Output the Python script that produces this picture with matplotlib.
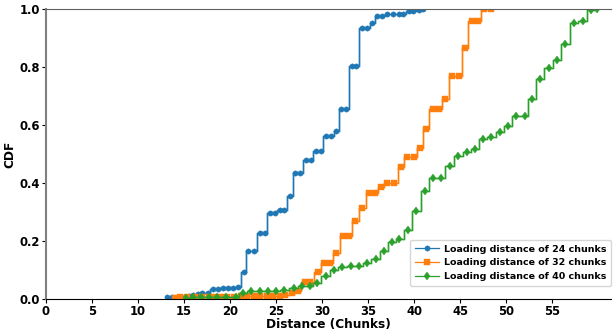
import matplotlib
matplotlib.use("Agg")
import matplotlib.pyplot as plt

# --------- DATA ---------
x_24 = [13.1, 13.7, 14.7, 15.5, 16.0, 16.5, 17.0, 17.6, 18.1, 18.7, 19.2, 19.8, 20.3, 20.9,
        21.5, 22.0, 22.6, 23.2, 23.8, 24.3, 24.85, 25.4, 25.9, 26.5, 27.1, 27.6, 28.2, 28.8,
        29.3, 29.85, 30.4, 31.0, 31.5, 32.1, 32.6, 33.2, 33.7, 34.35, 34.9, 35.4, 36.0, 36.55,
        37.1, 37.7, 38.3, 38.8, 39.4, 39.9, 40.5, 41.0]
cdf_24 = [0.005, 0.005, 0.008, 0.011, 0.014, 0.018, 0.020, 0.022, 0.034, 0.035, 0.037, 0.037, 0.039, 0.040,
          0.093, 0.166, 0.166, 0.228, 0.228, 0.298, 0.298, 0.308, 0.308, 0.355, 0.433, 0.433, 0.478, 0.478,
          0.509, 0.509, 0.561, 0.561, 0.578, 0.655, 0.655, 0.803, 0.803, 0.934, 0.934, 0.953, 0.977, 0.977,
          0.984, 0.984, 0.984, 0.984, 0.992, 0.992, 0.995, 1.0]

x_32 = [14.0, 14.6, 15.3, 16.2, 17.0, 17.7, 18.4, 19.0, 19.7, 20.4, 21.2, 21.85, 22.6, 23.3,
        24.0, 24.7, 25.4, 26.0, 26.7, 27.35, 28.1, 28.7, 29.5, 30.2, 30.9, 31.55, 32.3, 32.9,
        33.6, 34.35, 35.1, 35.7, 36.45, 37.1, 37.85, 38.6, 39.2, 40.0, 40.6, 41.3, 42.0, 42.7,
        43.4, 44.1, 44.85, 45.5, 46.3, 46.9, 47.6, 48.3]
cdf_32 = [0.003, 0.005, 0.006, 0.007, 0.008, 0.008, 0.008, 0.008, 0.008, 0.008, 0.009, 0.009, 0.009, 0.011,
          0.011, 0.011, 0.011, 0.014, 0.022, 0.029, 0.060, 0.060, 0.092, 0.124, 0.124, 0.159, 0.216, 0.216,
          0.269, 0.313, 0.367, 0.367, 0.385, 0.399, 0.399, 0.454, 0.489, 0.489, 0.522, 0.586, 0.655, 0.655,
          0.690, 0.768, 0.768, 0.864, 0.959, 0.959, 1.0, 1.0]

x_40 = [15.2, 16.0, 16.8, 17.7, 18.6, 19.6, 20.6, 21.4, 22.3, 23.2, 24.1, 25.0, 25.9, 26.9,
        27.8, 28.65, 29.4, 30.4, 31.3, 32.2, 33.1, 34.0, 34.9, 35.8, 36.7, 37.6, 38.4, 39.35,
        40.25, 41.15, 42.0, 42.9, 43.9, 44.8, 45.7, 46.6, 47.45, 48.4, 49.3, 50.2, 51.1, 52.0,
        52.8, 53.7, 54.6, 55.55, 56.4, 57.35, 58.3, 59.2, 59.9]
cdf_40 = [0.003, 0.005, 0.006, 0.006, 0.006, 0.006, 0.008, 0.022, 0.029, 0.029, 0.029, 0.029, 0.031, 0.037,
          0.043, 0.045, 0.054, 0.079, 0.100, 0.109, 0.114, 0.114, 0.123, 0.137, 0.167, 0.198, 0.208, 0.238,
          0.303, 0.373, 0.416, 0.416, 0.460, 0.493, 0.508, 0.517, 0.551, 0.560, 0.575, 0.598, 0.631, 0.631,
          0.689, 0.759, 0.795, 0.824, 0.878, 0.953, 0.959, 0.997, 1.0]

labels = ["Loading distance of 24 chunks",
          "Loading distance of 32 chunks",
          "Loading distance of 40 chunks"]
# -----------------------------------------------

plt.rcParams["font.weight"] = "bold"
plt.rcParams["axes.labelweight"] = "bold"

fig = plt.figure(figsize=(6.13, 3.34), dpi=100)
ax = fig.add_axes([0.075, 0.105, 0.922, 0.868])

series = [(x_24, cdf_24, "o", 3.8), (x_32, cdf_32, "s", 3.8), (x_40, cdf_40, "d", 4.4)]
colors = ["#1f77b4", "#ff7f0e", "#2ca02c"]
for (xs, ys, mk, ms), c, lab in zip(series, colors, labels):
    ax.plot(xs, ys, drawstyle="steps-mid", color=c, lw=1.8, alpha=0.35)
    ax.plot(xs, ys, drawstyle="steps-mid", color=c, lw=0.9, marker=mk, ms=ms,
            markeredgewidth=0.3, label=lab)

ax.set_xlim(0, 61.4)
ax.set_ylim(0, 1.0)
ax.set_xticks(range(0, 60, 5))
ax.set_yticks([0.0, 0.2, 0.4, 0.6, 0.8, 1.0])
ax.tick_params(labelsize=8.4, length=3, pad=1.5)
ax.set_xlabel("Distance (Chunks)", fontsize=8.7, labelpad=0)
ax.set_ylabel("CDF", fontsize=8.7, labelpad=2)

ax.spines["left"].set_color("#808080")
ax.spines["left"].set_linewidth(1.5)
ax.spines["top"].set_color("#606060")
ax.spines["right"].set_visible(False)

ax.legend(loc="lower right", bbox_to_anchor=(1.0, 0.045), borderaxespad=0,
          fontsize=6.8, handlelength=2.6, handletextpad=0.5, borderpad=0.5)

fig.savefig("out.png", dpi=100)
